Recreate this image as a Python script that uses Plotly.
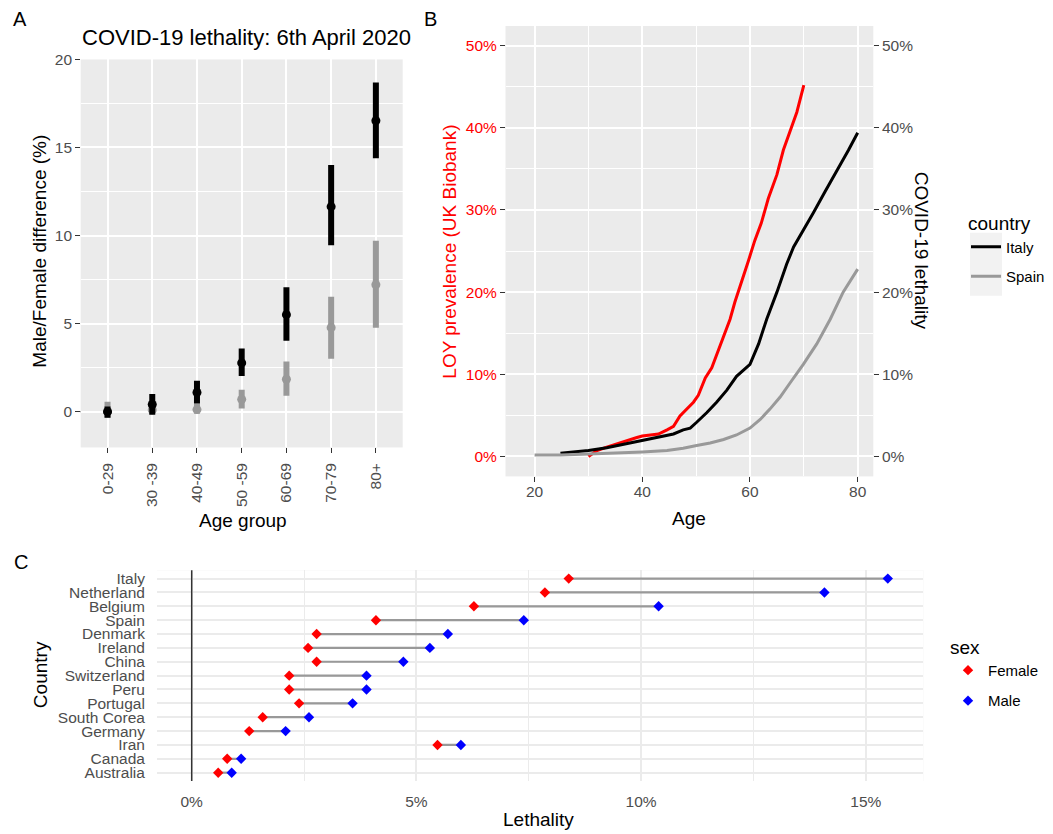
import plotly.graph_objects as go

W, H = 1053, 834
def px(x): return x / W
# the rendered page puts figure-y at 8 + 0.9905*y; compensate so targets land on reference pixels
def py(y): return 1 - ((y - 8) / 0.9905) / H

FONT = "Liberation Sans, Arial, sans-serif"
TICKC = "#4D4D4D"

# ---------------- Panel A data ----------------
age_groups = ["0-29", "30 -39", "40-49", "50 -59", "60-69", "70-79", "80+"]
italy_diff = [0.0, 0.41, 1.09, 2.77, 5.51, 11.64, 16.52]
italy_lo = [-0.35, -0.18, 0.47, 2.03, 4.02, 9.45, 14.39]
italy_hi = [0.30, 1.00, 1.76, 3.59, 7.07, 14.00, 18.69]
spain_diff = [0.0, 0.10, 0.12, 0.70, 1.84, 4.77, 7.21]
spain_lo = [-0.35, -0.10, -0.12, 0.18, 0.90, 3.00, 4.77]
spain_hi = [0.57, 0.40, 0.47, 1.25, 2.85, 6.52, 9.70]

# ---------------- Panel B data ----------------
loy_age = [30.0, 31.6, 33.4, 35.3, 37.1, 39.0, 40.0, 41.5, 43.0, 44.6, 45.8, 47.0, 48.3, 49.5,
           50.4, 51.7, 52.9, 54.1, 55.1, 56.3, 57.2, 58.5, 59.7, 60.9, 62.1, 63.4, 65.0, 66.2,
           67.1, 68.7, 70.0]
loy_prev = [0.0, 0.71, 1.13, 1.55, 1.97, 2.31, 2.48, 2.61, 2.73, 3.24, 3.66, 4.92, 5.76, 6.60,
            7.44, 9.54, 10.8, 12.9, 14.6, 16.7, 18.8, 21.3, 23.8, 26.3, 28.4, 31.4, 34.3, 37.3,
            38.9, 41.9, 45.2]
italy_age = [24.8, 30.0, 33.4, 37.1, 40.0, 43.0, 45.8, 47.6, 48.9, 50.1, 52.0, 53.8, 55.7, 57.5,
             60.0, 61.6, 63.1, 65.0, 66.8, 68.1, 70.0, 71.8, 73.9, 76.1, 78.3, 80.0]
italy_leth = [0.38, 0.71, 1.05, 1.55, 1.89, 2.31, 2.73, 3.24, 3.45, 4.16, 5.34, 6.60, 8.07, 9.75,
              11.2, 13.7, 16.7, 20.0, 23.4, 25.5, 27.6, 29.7, 32.2, 34.7, 37.3, 39.4]
spain_age = [20.0, 24.8, 30.0, 35.0, 40.0, 44.6, 47.6, 50.1, 52.6, 55.1, 57.5, 60.0, 61.9, 63.7,
             65.6, 67.4, 69.9, 72.4, 74.9, 77.3, 80.0]
spain_leth = [0.17, 0.17, 0.29, 0.38, 0.55, 0.71, 1.0, 1.34, 1.64, 2.06, 2.61, 3.45, 4.50, 5.76,
              7.23, 8.91, 11.2, 13.7, 16.7, 20.0, 22.8]
pct_ticks = [0, 10, 20, 30, 40, 50]
pct_labels = ["0%", "10%", "20%", "30%", "40%", "50%"]
age_ticks = [20, 40, 60, 80]

# ---------------- Panel C data ----------------
countries = ["Italy", "Netherland", "Belgium", "Spain", "Denmark", "Ireland", "China",
             "Switzerland", "Peru", "Portugal", "South Corea", "Germany", "Iran", "Canada",
             "Australia"]
female_leth = [8.39, 7.86, 6.28, 4.10, 2.78, 2.59, 2.78, 2.17, 2.17, 2.39, 1.58, 1.28, 5.47, 0.79, 0.59]
male_leth = [15.49, 14.08, 10.39, 7.39, 5.70, 5.30, 4.71, 3.89, 3.89, 3.58, 2.61, 2.09, 5.99, 1.10, 0.89]
leth_ticks = [0, 5, 10, 15]
leth_labels = ["0%", "5%", "10%", "15%"]


def seg(xs_a, xs_b, ys_a, ys_b):
    X, Y = [], []
    for a, b, c, d in zip(xs_a, xs_b, ys_a, ys_b):
        X += [a, b, None]
        Y += [c, d, None]
    return X, Y


fig = go.Figure()

# Panel A
for lo, hi, mid, col in [(spain_lo, spain_hi, spain_diff, "#999999"),
                         (italy_lo, italy_hi, italy_diff, "#000000")]:
    X, Y = seg(age_groups, age_groups, lo, hi)
    fig.add_trace(go.Scatter(x=X, y=Y, mode="lines", line=dict(color=col, width=6),
                             xaxis="x", yaxis="y", showlegend=False, hoverinfo="skip"))
    fig.add_trace(go.Scatter(x=age_groups, y=mid, mode="markers",
                             marker=dict(color=col, size=9), xaxis="x", yaxis="y",
                             showlegend=False))

# Panel B
fig.add_trace(go.Scatter(x=loy_age, y=loy_prev, mode="lines", line=dict(color="#FF0000", width=3),
                         xaxis="x2", yaxis="y2", showlegend=False, name="LOY"))
fig.add_trace(go.Scatter(x=italy_age, y=italy_leth, mode="lines", line=dict(color="#000000", width=3),
                         xaxis="x2", yaxis="y3", name="Italy", legend="legend", legendgroup="it"))
fig.add_trace(go.Scatter(x=spain_age, y=spain_leth, mode="lines", line=dict(color="#999999", width=3),
                         xaxis="x2", yaxis="y3", name="Spain", legend="legend", legendgroup="sp"))

# Panel C
X, Y = seg(female_leth, male_leth, countries, countries)
fig.add_trace(go.Scatter(x=X, y=Y, mode="lines", line=dict(color="#999999", width=2.2),
                         xaxis="x3", yaxis="y4", showlegend=False, hoverinfo="skip"))
fig.add_trace(go.Scatter(x=female_leth, y=countries, mode="markers", name="Female",
                         marker=dict(color="#FF0000", symbol="diamond", size=8),
                         xaxis="x3", yaxis="y4", legend="legend2", legendgroup="f"))
fig.add_trace(go.Scatter(x=male_leth, y=countries, mode="markers", name="Male",
                         marker=dict(color="#0000FF", symbol="diamond", size=8),
                         xaxis="x3", yaxis="y4", legend="legend2", legendgroup="m"))

tickfont = dict(family=FONT, size=15.5, color=TICKC)
gg_axis = dict(showline=False, zeroline=False, gridcolor="white", gridwidth=1.8,
               ticks="outside", ticklen=4.5, tickwidth=1.4, tickcolor="#333333",
               tickfont=tickfont)

fig.update_layout(
    width=W, height=H, margin=dict(l=0, r=0, t=0, b=0),
    paper_bgcolor="white", plot_bgcolor="#EBEBEB",
    font=dict(family=FONT, color="black"),
    xaxis=dict(gg_axis, domain=[px(80.7), px(402.7)], anchor="y", type="category",
               categoryorder="array", categoryarray=age_groups, range=[-0.6, 6.6],
               tickangle=-90, ticklabelstandoff=4),
    yaxis=dict(gg_axis, domain=[py(447), py(58.5)], anchor="x", range=[-2.03, 20],
               tickmode="array", tickvals=[0, 5, 10, 15, 20],
               minor=dict(dtick=2.5, tick0=0, showgrid=True, gridcolor="white", gridwidth=0.9, ticks="")),
    xaxis2=dict(gg_axis, domain=[px(505.5), px(873.3)], anchor="y2", range=[14.6, 82.9],
                tickmode="array", tickvals=age_ticks, ticklabelstandoff=-3,
                minor=dict(dtick=10, tick0=0, showgrid=True, gridcolor="white", gridwidth=0.9, ticks="")),
    yaxis2=dict(gg_axis, domain=[py(476), py(25)], anchor="x2", range=[-2.43, 52.4],
                tickmode="array", tickvals=pct_ticks, ticktext=pct_labels,
                tickfont=dict(family=FONT, size=15.5, color="#FF0000"),
                minor=dict(dtick=5, tick0=0, showgrid=True, gridcolor="white", gridwidth=0.9, ticks="")),
    yaxis3=dict(gg_axis, overlaying="y2", side="right", anchor="x2", range=[-2.43, 52.4],
                tickmode="array", tickvals=pct_ticks, ticktext=pct_labels, showgrid=False),
    xaxis3=dict(domain=[px(157), px(923.3)], anchor="y4", range=[-0.772, 16.28],
                tickmode="array", tickvals=leth_ticks, ticktext=leth_labels,
                showline=False, zeroline=False,
                gridcolor="#EBEBEB", gridwidth=1.8, ticks="outside", ticklen=6,
                tickcolor="rgba(0,0,0,0)", tickfont=tickfont,
                minor=dict(dtick=2.5, tick0=0, showgrid=True, gridcolor="#EBEBEB", gridwidth=0.9)),
    yaxis4=dict(domain=[py(781), py(570)], anchor="x3", type="category",
                categoryorder="array", categoryarray=countries[::-1], range=[-0.6, 14.6],
                tickmode="array", tickvals=countries,
                showline=False, zeroline=False, gridcolor="#EBEBEB", gridwidth=1.8,
                ticks="outside", ticklen=8, tickcolor="rgba(0,0,0,0)",
                tickfont=dict(family=FONT, size=15.5, color=TICKC)),
    legend=dict(title=dict(text="country", font=dict(family=FONT, size=19)),
                font=dict(family=FONT, size=15, color="black"),
                x=px(966), y=py(205), xanchor="left", yanchor="top",
                bgcolor="rgba(0,0,0,0)", traceorder="grouped", tracegroupgap=7),
    legend2=dict(title=dict(text="sex", font=dict(family=FONT, size=19)),
                 font=dict(family=FONT, size=15, color="black"),
                 x=px(948), y=py(629), xanchor="left", yanchor="top",
                 bgcolor="rgba(0,0,0,0)", traceorder="grouped", tracegroupgap=8),
    showlegend=True,
)

# Panel C white background
fig.add_shape(type="rect", xref="x3 domain", yref="y4 domain", x0=0, x1=1, y0=0, y1=1,
              fillcolor="white", line=dict(width=0), layer="below")
# reference lines
fig.add_shape(type="line", xref="x domain", yref="y", x0=0, x1=1, y0=0, y1=0,
              line=dict(color="black", width=1.4, dash="5px,4px"), layer="below")
fig.add_shape(type="line", xref="x3", yref="y4 domain", x0=0, x1=0, y0=0, y1=1,
              line=dict(color="#333333", width=1.5), layer="above")
# legend key background
fig.add_shape(type="rect", xref="paper", yref="paper", x0=px(970), x1=px(1002),
              y0=py(295), y1=py(232), fillcolor="#F2F2F2", line=dict(width=0), layer="below")

ann = [
    dict(text="A", x=px(20), y=py(18), size=20, color="black"),
    dict(text="B", x=px(430), y=py(18), size=20, color="black"),
    dict(text="C", x=px(21), y=py(562), size=20, color="black"),
    dict(text="COVID-19 lethality: 6th April 2020", x=px(246.7), y=py(37), size=22, color="black"),
    dict(text="Male/Female difference (%)", x=px(40), y=py(251), size=19, color="black", angle=-90),
    dict(text="Age group", x=px(243), y=py(520), size=19, color="black"),
    dict(text="LOY prevalence (UK Biobank)", x=px(450), y=py(251), size=19, color="#FF0000", angle=-90),
    dict(text="Age", x=px(689), y=py(518), size=19, color="black"),
    dict(text="COVID-19 lethality", x=px(921), y=py(250), size=19, color="black", angle=90),
    dict(text="Country", x=px(40), y=py(675), size=19, color="black", angle=-90),
    dict(text="Lethality", x=px(538), y=py(820), size=19, color="black"),
]
for a in ann:
    fig.add_annotation(text=a["text"], x=a["x"], y=a["y"], xref="paper", yref="paper",
                       xanchor="center", yanchor="middle", showarrow=False,
                       textangle=a.get("angle", 0),
                       font=dict(family=FONT, size=a["size"], color=a["color"]))

fig.write_html(
    "out.html",
    config={"displayModeBar": False},
    post_script=(
        "document.documentElement.style.margin='0';document.documentElement.style.padding='0';"
        "document.body.style.margin='0';document.body.style.padding='0';"
        "document.documentElement.style.overflow='hidden';document.body.style.overflow='hidden';"
        "var gd=document.getElementById('{plot_id}');"
        "gd.style.position='fixed';gd.style.top='0px';gd.style.left='0px';"
    ),
)
